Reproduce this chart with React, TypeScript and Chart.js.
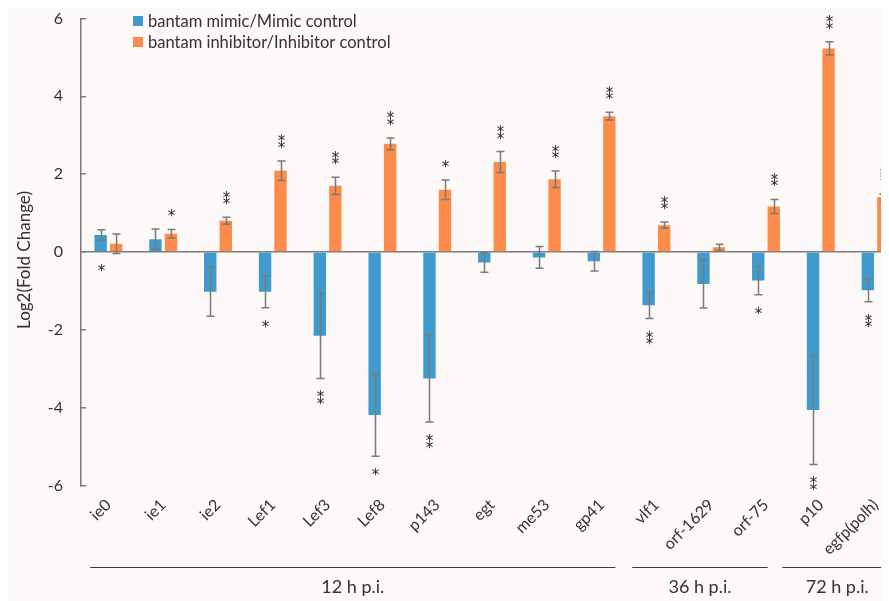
import React, { useEffect, useRef } from "react";
import { Chart, registerables } from "chart.js";

Chart.register(...registerables);

const categories = [
  "ie0", "ie1", "ie2", "Lef1", "Lef3", "Lef8", "p143", "egt", "me53", "gp41",
  "vlf1", "orf-1629", "orf-75", "p10", "egfp(polh)",
];

const mimicLabel = "bantam mimic/Mimic control";
const mimicValues = [0.44, 0.33, -1.02, -1.02, -2.15, -4.19, -3.25, -0.27, -0.14, -0.24, -1.37, -0.82, -0.73, -4.06, -0.98];
const mimicErrors = [0.13, 0.26, 0.63, 0.41, 1.1, 1.06, 1.12, 0.25, 0.28, 0.25, 0.34, 0.62, 0.37, 1.4, 0.3];
const mimicSig = ["*", "", "", "*", "**", "*", "**", "", "", "", "**", "", "*", "**", "**"];
const mimicSigBelow = [true, false, true, true, true, true, true, true, true, true, true, true, true, true, true];

const inhibitorLabel = "bantam inhibitor/Inhibitor control";
const inhibitorValues = [0.21, 0.47, 0.8, 2.09, 1.7, 2.78, 1.6, 2.31, 1.87, 3.49, 0.69, 0.12, 1.17, 5.23, 1.41];
const inhibitorErrors = [0.25, 0.11, 0.09, 0.25, 0.22, 0.15, 0.25, 0.27, 0.21, 0.1, 0.08, 0.08, 0.18, 0.17, 0.08];
const inhibitorSig = ["", "*", "**", "**", "**", "**", "*", "**", "**", "**", "**", "", "**", "**", "**"];
const inhibitorSigBelow = [false, false, false, false, false, false, false, false, false, false, false, false, false, false, false];

const yTicks = [-6, -4, -2, 0, 2, 4, 6];
const yTitle = "Log2(Fold Change)";

const groupLabels = ["12 h p.i.", "36 h p.i.", "72 h p.i."];
// extents of group underlines, in category-index units
const groupFrom = [-0.33, 9.56, 12.3];
const groupTo = [9.25, 12.03, 14.3];

const BLUE = "#3f9bcd";
const ORANGE = "#fd8b49";
const GREY = "#7a7a7a";
const TEXT = "#333333";
const FONT = "Lato";

const overlayPlugin = {
  id: "overlay",
  afterDatasetsDraw(chart: any) {
    const ctx = chart.ctx;
    const ys = chart.scales.y;
    const sets = [
      { vals: mimicValues, errs: mimicErrors, sig: mimicSig, below: mimicSigBelow },
      { vals: inhibitorValues, errs: inhibitorErrors, sig: inhibitorSig, below: inhibitorSigBelow },
    ];
    ctx.save();
    ctx.font = `15px "DejaVu Sans"`;
    const m = ctx.measureText("*");
    const a = m.actualBoundingBoxAscent;
    const d = m.actualBoundingBoxDescent;
    sets.forEach((s, di) => {
      const meta = chart.getDatasetMeta(di);
      meta.data.forEach((bar: any, i: number) => {
        const v = s.vals[i];
        const e = s.errs[i];
        const top = ys.getPixelForValue(v + e);
        const bot = ys.getPixelForValue(v - e);
        const bx = Math.round(bar.x) + 0.5;
        ctx.strokeStyle = GREY;
        ctx.lineWidth = 1.5;
        ctx.beginPath();
        ctx.moveTo(bx, top);
        ctx.lineTo(bx, bot);
        ctx.moveTo(bx - 4, top);
        ctx.lineTo(bx + 4, top);
        ctx.moveTo(bx - 4, bot);
        ctx.lineTo(bx + 4, bot);
        ctx.stroke();
        const n = s.sig[i].length;
        if (n > 0) {
          ctx.fillStyle = "#2a2a2a";
          ctx.textAlign = "center";
          ctx.textBaseline = "alphabetic";
          for (let k = 0; k < n; k++) {
            let cy;
            if (s.below[i]) {
              const anchor = Math.max(bot, ys.getPixelForValue(0));
              cy = anchor + 16 + k * 6.5;
            } else {
              cy = top - 16 - k * 6.5;
            }
            ctx.fillText("*", bx, cy + (a - d) / 2);
          }
        }
      });
    });
    ctx.restore();
  },
  afterDraw(chart: any) {
    const ctx = chart.ctx;
    const xs = chart.scales.x;
    ctx.save();
    // legend
    const items = [
      { label: mimicLabel, color: BLUE },
      { label: inhibitorLabel, color: ORANGE },
    ];
    ctx.font = `16.5px ${FONT}`;
    ctx.textAlign = "left";
    ctx.textBaseline = "middle";
    items.forEach((it, k) => {
      const cy = 13 + k * 21;
      ctx.fillStyle = it.color;
      ctx.fillRect(125, cy - 5, 10, 10);
      ctx.fillStyle = TEXT;
      ctx.fillText(it.label, 140, cy + 1);
    });
    // y title
    ctx.save();
    ctx.translate(17, 252);
    ctx.rotate(-Math.PI / 2);
    ctx.textAlign = "center";
    ctx.textBaseline = "middle";
    ctx.font = `17px ${FONT}`;
    ctx.fillStyle = TEXT;
    ctx.fillText(yTitle, 0, 0);
    ctx.restore();
    // group lines
    const p0 = xs.getPixelForValue(0);
    const step = xs.getPixelForValue(1) - p0;
    const lineY = 559.5;
    ctx.strokeStyle = "#3a3a3a";
    ctx.lineWidth = 1.2;
    ctx.font = `18px ${FONT}`;
    ctx.fillStyle = TEXT;
    ctx.textAlign = "center";
    ctx.textBaseline = "middle";
    groupLabels.forEach((g, k) => {
      const x1 = p0 + step * groupFrom[k];
      const x2 = p0 + step * groupTo[k];
      ctx.beginPath();
      ctx.moveTo(x1, lineY);
      ctx.lineTo(x2, lineY);
      ctx.stroke();
      ctx.fillText(g, (x1 + x2) / 2, lineY + 20);
    });
    ctx.restore();
  },
};

export default function App() {
  const ref = useRef<HTMLCanvasElement | null>(null);
  useEffect(() => {
    if (!ref.current) return;
    const chart = new Chart(ref.current, {
      type: "bar",
      data: {
        labels: categories,
        datasets: [
          { label: mimicLabel, data: mimicValues, backgroundColor: BLUE, borderWidth: 0, categoryPercentage: 0.566, barPercentage: 0.8 },
          { label: inhibitorLabel, data: inhibitorValues, backgroundColor: ORANGE, borderWidth: 0, categoryPercentage: 0.566, barPercentage: 0.8 },
        ],
      },
      options: {
        responsive: false,
        animation: false,
        devicePixelRatio: 1,
        layout: { padding: { top: 0, right: 5, left: 0, bottom: 0 } },
        plugins: { legend: { display: false }, tooltip: { enabled: false } },
        scales: {
          x: {
            position: "bottom",
            grid: { display: false, drawTicks: false },
            border: { display: false },
            ticks: {
              autoSkip: false,
              minRotation: 45,
              maxRotation: 45,
              padding: 10,
              color: TEXT,
              font: { family: FONT, size: 16 },
            },
            afterFit: (s: any) => { s.height = 115.5; s.paddingLeft = 0; s.paddingRight = 0; },
          },
          y: {
            min: -6,
            max: 6,
            afterBuildTicks: (s: any) => { s.ticks = yTicks.map((v) => ({ value: v })); },
            grid: {
              drawOnChartArea: true,
              color: (c: any) => (c.tick && c.tick.value === 0 ? GREY : "rgba(0,0,0,0)"),
              lineWidth: 1.5,
              tickColor: GREY,
              tickLength: -5,
              tickWidth: 1.5,
            },
            border: { display: true, color: GREY, width: 1.5 },
            ticks: {
              padding: 23,
              color: TEXT,
              font: { family: FONT, size: 16 },
            },
            afterFit: (s: any) => { s.width = 73; s.paddingTop = 10.5; s.paddingBottom = 0; },
          },
        },
      },
      plugins: [overlayPlugin],
    });
    return () => chart.destroy();
  }, []);
  return (
    <div style={{ width: 881, height: 593, overflow: "hidden", background: "#fcf9f8" }}>
      <canvas ref={ref} width={900} height={593} style={{ width: 900, height: 593, display: "block" }} />
    </div>
  );
}
